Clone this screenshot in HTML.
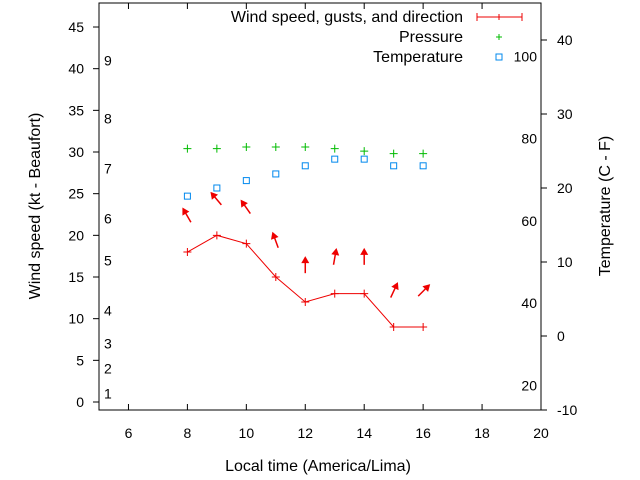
<!DOCTYPE html>
<html><head><meta charset="utf-8"><style>
body{margin:0;background:#fff}
svg{display:block;font-family:"Liberation Sans",sans-serif;font-size:14px}
.big{font-size:16px}
</style></head><body>
<svg id="c" width="640" height="480">
<rect x="99" y="3" width="442" height="407" fill="none" stroke="#000"/>
<g id="ax"></g><g id="marks"></g>
<text class="big" x="318" y="471" text-anchor="middle">Local time (America/Lima)</text>
<text class="big" transform="translate(40,206) rotate(-90)" text-anchor="middle">Wind speed (kt - Beaufort)</text>
<text class="big" transform="translate(610,206) rotate(-90)" text-anchor="middle">Temperature (C - F)</text>
<g>
<text class="big" x="463" y="22" text-anchor="end">Wind speed, gusts, and direction</text>
<line x1="477" y1="17" x2="522" y2="17" stroke="#e00"/><line x1="477" y1="13" x2="477" y2="21" stroke="#e00"/><line x1="522" y1="13" x2="522" y2="21" stroke="#e00"/><line x1="499" y1="14" x2="499" y2="20" stroke="#e00"/>
<text class="big" x="463" y="42" text-anchor="end">Pressure</text>
<path d="M496 37h6M499 34v6" stroke="#0b0"/>
<text class="big" x="463" y="62" text-anchor="end">Temperature</text>
<rect x="496" y="54" width="6" height="6" fill="none" stroke="#08e"/>
</g>
</svg>
<script>
const hours=[8,9,10,11,12,13,14,15,16];
const wind=[18,20,19,15,12,13,13,9,9];
const pressure=[30.4,30.4,30.6,30.6,30.6,30.4,30.1,29.8,29.8];
const temperature=[18.9,20,21,21.9,23,23.9,23.9,23,23];
const direction=[-30,-40,-35,-20,0,10,0,25,45];
const xTicks=[6,8,10,12,14,16,18,20];
const yTicks=[0,5,10,15,20,25,30,35,40,45];
const y2Ticks=[-10,0,10,20,30,40];
const fahrenheit=[20,40,60,80,100];
const beaufort=[[1,1],[2,4],[3,7],[4,11],[5,17],[6,22],[7,28],[8,34],[9,41]];
const X=v=>99+(v-5)*442/15;
const Y=v=>402-v*8.333;
const Y2=v=>336-v*7.4;
const ns='http://www.w3.org/2000/svg';
const ax=document.getElementById('ax'),mk=document.getElementById('marks');
function el(p,t,a){const e=document.createElementNS(ns,t);for(const k in a)e.setAttribute(k,a[k]);p.appendChild(e);return e;}
xTicks.forEach(v=>{
 const l=el(ax,'path',{d:`M${X(v)} 410v-6M${X(v)} 3v6`,stroke:'#000'});
 
 
 const t=el(ax,'text',{x:X(v),y:438,'text-anchor':'middle'});t.textContent=v;
 
 
});
yTicks.forEach(v=>{
 const l=el(ax,'path',{d:`M93 ${Y(v)}h6`,stroke:'#000'});
 
 
 const t=el(ax,'text',{x:84,y:Y(v)+5,'text-anchor':'end'});t.textContent=v;
 
 
});
y2Ticks.forEach(v=>{
 const l=el(ax,'path',{d:`M541 ${Y2(v)}h6`,stroke:'#000'});
 
 
 const t=el(ax,'text',{x:557,y:Y2(v)+5});t.textContent=v;
 
 
});
fahrenheit.forEach(f=>{
 const t=el(ax,'text',{x:537,y:Y2((f-32)*5/9)+5,'text-anchor':'end'});t.textContent=f;
 
 
});
beaufort.forEach(([b,kt])=>{
 const t=el(ax,'text',{x:104,y:Y(kt)+5});t.textContent=b;
 
 
});
const line=el(mk,'polyline',{points:hours.map((h,i)=>X(h)+','+Y(wind[i])).join(' '),fill:'none',stroke:'#e00'});


hours.forEach((h,i)=>{
 const x=X(h),y=Y(wind[i]);
 const p=el(mk,'path',{d:`M${x-4} ${y}h8M${x} ${y-4}v8`,stroke:'#e00'});
 
 
 const py=Y(pressure[i]);
 const g=el(mk,'path',{d:`M${x-4} ${py}h8M${x} ${py-4}v8`,stroke:'#0b0'});
 
 
 const ty=Y2(temperature[i]);
 const s=el(mk,'rect',{x:x-3,y:ty-3,width:6,height:6,fill:'none',stroke:'#08e'});
 
 
 const cy=Y(wind[i]+4.3),a=direction[i]*Math.PI/180,dx=Math.sin(a),dy=-Math.cos(a);
 const x1=x-dx*7,y1=cy-dy*7,x2=x+dx*8,y2=cy+dy*8;
 const ar=el(mk,'g',{});
 
 
 el(ar,'line',{x1,y1,x2,y2,stroke:'#e00','stroke-width':1.5});
 const px=-dy,py2=dx;
 el(ar,'polygon',{points:`${x2+dx*2},${y2+dy*2} ${x2-dx*5+px*4},${y2-dy*5+py2*4} ${x2-dx*5-px*4},${y2-dy*5-py2*4}`,fill:'#e00'});
});
</script>
</body></html>
